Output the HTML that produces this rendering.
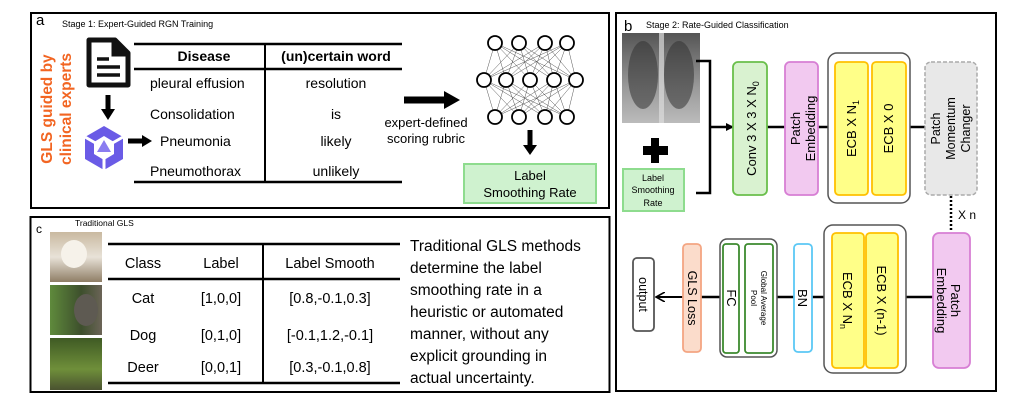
<!DOCTYPE html>
<html><head><meta charset="utf-8"><style>
html,body{margin:0;padding:0;background:#fff;}
svg{display:block;font-family:"Liberation Sans",Arial,sans-serif;}
</style></head><body>
<svg width="1028" height="411" viewBox="0 0 1028 411" xmlns="http://www.w3.org/2000/svg">
<defs>
<marker id="ah" markerWidth="8" markerHeight="8" refX="7" refY="4" orient="auto" markerUnits="userSpaceOnUse"><path d="M0,0 L8,4 L0,8 z" fill="#000"/></marker>
<marker id="ao" markerWidth="10" markerHeight="10" refX="9" refY="5" orient="auto" markerUnits="userSpaceOnUse"><path d="M0,0 L9,5 L0,10" fill="none" stroke="#000" stroke-width="1.6"/></marker>
<linearGradient id="xr" x1="0" y1="0" x2="0" y2="1"><stop offset="0" stop-color="#555"/><stop offset="0.6" stop-color="#999"/><stop offset="1" stop-color="#bbb"/></linearGradient>
<linearGradient id="dog" x1="0" y1="0" x2="0" y2="1"><stop offset="0" stop-color="#c9b9a0"/><stop offset="0.5" stop-color="#e8e2d8"/><stop offset="1" stop-color="#8f7e66"/></linearGradient>
<linearGradient id="cat" x1="0" y1="0" x2="1" y2="0"><stop offset="0" stop-color="#5f8a3c"/><stop offset="0.6" stop-color="#3d4f2c"/><stop offset="1" stop-color="#6b6457"/></linearGradient>
<linearGradient id="deer" x1="0" y1="0" x2="0" y2="1"><stop offset="0" stop-color="#3f5a24"/><stop offset="0.6" stop-color="#6f8f3a"/><stop offset="1" stop-color="#4a5230"/></linearGradient>
</defs>

<!-- Panel a -->
<rect x="31" y="13" width="578" height="195" fill="none" stroke="#000" stroke-width="2"/>
<text x="36" y="25" font-size="15">a</text>
<text x="62" y="27" font-size="9">Stage 1: Expert-Guided RGN Training</text>
<text transform="translate(52,109) rotate(-90)" text-anchor="middle" font-size="15.5" font-weight="bold" fill="#f26522">GLS guided by</text>
<text transform="translate(71,109) rotate(-90)" text-anchor="middle" font-size="15.5" font-weight="bold" fill="#f26522">clinical experts</text>
<path d="M89,40 H115 L128,53 V85 H89 Z" fill="none" stroke="#111" stroke-width="5" stroke-linejoin="round"/>
<path d="M113,40 V55 H128" fill="#111" stroke="#111" stroke-width="3"/>
<line x1="97" y1="59" x2="109" y2="59" stroke="#111" stroke-width="3.5"/>
<line x1="97" y1="67" x2="120" y2="67" stroke="#111" stroke-width="3.5"/>
<line x1="97" y1="75" x2="120" y2="75" stroke="#111" stroke-width="3.5"/>
<line x1="108" y1="95" x2="108" y2="110" stroke="#000" stroke-width="5"/>
<path d="M101,109 L115,109 L108,120 Z" fill="#000"/>
<g transform="translate(104,148)">
<polygon points="0,-22 19,-11 19,11 0,22 -19,11 -19,-11" fill="#6a5be6"/>
<polygon points="0,-12 10,-6 10,6 0,12 -10,6 -10,-6" fill="#fff"/>
<path d="M-19,-11 L-5,-3 M19,-11 L5,-3 M0,22 L0,8" stroke="#fff" stroke-width="3"/>
<polygon points="0,-8 7,4 -7,4" fill="#8a7cf0"/>
</g>
<line x1="128" y1="141" x2="143" y2="141" stroke="#000" stroke-width="5"/>
<path d="M142,135 L152,141 L142,147 Z" fill="#000"/>
<line x1="134" y1="44" x2="402" y2="44" stroke="#000" stroke-width="2.5"/>
<line x1="134" y1="69" x2="402" y2="69" stroke="#000" stroke-width="2.5"/>
<line x1="134" y1="182" x2="402" y2="182" stroke="#000" stroke-width="2.5"/>
<line x1="265" y1="44" x2="265" y2="182" stroke="#000" stroke-width="2"/>
<text x="204" y="61" text-anchor="middle" font-size="14" font-weight="bold">Disease</text>
<text x="336" y="61" text-anchor="middle" font-size="14" font-weight="bold">(un)certain word</text>
<g font-size="14">
<text x="150" y="88">pleural effusion</text>
<text x="150" y="119">Consolidation</text>
<text x="160" y="146">Pneumonia</text>
<text x="150" y="176">Pneumothorax</text>
<text x="336" y="88" text-anchor="middle">resolution</text>
<text x="336" y="119" text-anchor="middle">is</text>
<text x="336" y="146" text-anchor="middle">likely</text>
<text x="336" y="176" text-anchor="middle">unlikely</text>
</g>
<line x1="404" y1="100" x2="446" y2="100" stroke="#000" stroke-width="7"/>
<path d="M444,91 L460,100 L444,109 Z" fill="#000"/>
<text x="426" y="127" text-anchor="middle" font-size="13">expert-defined</text>
<text x="426" y="143" text-anchor="middle" font-size="13">scoring rubric</text>
<g stroke="#555" stroke-width="0.5">
<path d="M495,43L484,80M495,43L506,80M495,43L530,80M495,43L554,80M495,43L576,80M519,43L484,80M519,43L506,80M519,43L530,80M519,43L554,80M519,43L576,80M545,43L484,80M545,43L506,80M545,43L530,80M545,43L554,80M545,43L576,80M567,43L484,80M567,43L506,80M567,43L530,80M567,43L554,80M567,43L576,80"/>
<path d="M495,117L484,80M495,117L506,80M495,117L530,80M495,117L554,80M495,117L576,80M519,117L484,80M519,117L506,80M519,117L530,80M519,117L554,80M519,117L576,80M545,117L484,80M545,117L506,80M545,117L530,80M545,117L554,80M545,117L576,80M567,117L484,80M567,117L506,80M567,117L530,80M567,117L554,80M567,117L576,80"/>
</g>
<g fill="#fff" stroke="#000" stroke-width="1.8">
<circle cx="495" cy="43" r="7"/><circle cx="519" cy="43" r="7"/><circle cx="545" cy="43" r="7"/><circle cx="567" cy="43" r="7"/>
<circle cx="484" cy="80" r="7"/><circle cx="506" cy="80" r="7"/><circle cx="530" cy="80" r="7"/><circle cx="554" cy="80" r="7"/><circle cx="576" cy="80" r="7"/>
<circle cx="495" cy="117" r="7"/><circle cx="519" cy="117" r="7"/><circle cx="545" cy="117" r="7"/><circle cx="567" cy="117" r="7"/>
</g>
<line x1="530" y1="130" x2="530" y2="146" stroke="#000" stroke-width="5"/>
<path d="M523,145 L537,145 L530,155 Z" fill="#000"/>
<rect x="464" y="164" width="132" height="39" fill="#cff2cf" stroke="#8edc8e" stroke-width="2"/>
<text x="530" y="180" text-anchor="middle" font-size="13">Label</text>
<text x="530" y="197" text-anchor="middle" font-size="13">Smoothing Rate</text>

<!-- Panel c -->
<rect x="30.5" y="217" width="579" height="175" fill="none" stroke="#000" stroke-width="2"/>
<text x="36" y="233" font-size="12">c</text>
<text x="75" y="226" font-size="8.5">Traditional GLS</text>
<rect x="50" y="232" width="52" height="50" fill="url(#dog)"/>
<ellipse cx="74" cy="254" rx="13" ry="14" fill="#f6f2ea"/>
<rect x="50" y="285" width="52" height="50" fill="url(#cat)"/>
<ellipse cx="86" cy="310" rx="12" ry="16" fill="#5e5a52"/>
<rect x="50" y="338" width="52" height="52" fill="url(#deer)"/>
<line x1="108" y1="244" x2="400" y2="244" stroke="#000" stroke-width="2.5"/>
<line x1="108" y1="279" x2="400" y2="279" stroke="#000" stroke-width="2.5"/>
<line x1="108" y1="383" x2="400" y2="383" stroke="#000" stroke-width="2.5"/>
<line x1="263" y1="244" x2="263" y2="383" stroke="#000" stroke-width="2"/>
<g font-size="14.5" text-anchor="middle">
<text x="143" y="268">Class</text><text x="221" y="268">Label</text><text x="330" y="268">Label Smooth</text>
<text x="143" y="303">Cat</text><text x="221" y="303">[1,0,0]</text><text x="330" y="303">[0.8,-0.1,0.3]</text>
<text x="143" y="340">Dog</text><text x="221" y="340">[0,1,0]</text><text x="330" y="340">[-0.1,1.2,-0.1]</text>
<text x="143" y="372">Deer</text><text x="221" y="372">[0,0,1]</text><text x="330" y="372">[0.3,-0.1,0.8]</text>
</g>
<g font-size="15.5">
<text x="410" y="251">Traditional GLS methods</text>
<text x="410" y="273">determine the label</text>
<text x="410" y="295">smoothing rate in a</text>
<text x="410" y="317">heuristic or automated</text>
<text x="410" y="339">manner, without any</text>
<text x="410" y="361">explicit grounding in</text>
<text x="410" y="383">actual uncertainty.</text>
</g>

<!-- Panel b -->
<rect x="616" y="13" width="380" height="378" fill="none" stroke="#000" stroke-width="2"/>
<text x="624" y="31" font-size="15">b</text>
<text x="646" y="28" font-size="9">Stage 2: Rate-Guided Classification</text>
<rect x="622" y="33" width="78" height="90" fill="url(#xr)"/>
<ellipse cx="643" cy="75" rx="15" ry="34" fill="#333" opacity="0.55"/>
<ellipse cx="679" cy="75" rx="15" ry="34" fill="#333" opacity="0.55"/>
<rect x="659" y="33" width="5" height="90" fill="#ddd" opacity="0.7"/>
<rect x="651" y="138" width="8" height="25" fill="#000"/>
<rect x="643" y="146" width="25" height="9" fill="#000"/>
<rect x="623" y="169" width="61" height="42" fill="#cff2cf" stroke="#8edc8e" stroke-width="2"/>
<text x="653" y="181" text-anchor="middle" font-size="9">Label</text>
<text x="653" y="193" text-anchor="middle" font-size="9">Smoothing</text>
<text x="653" y="206" text-anchor="middle" font-size="9">Rate</text>
<path d="M696,61 H710 V193 H696" fill="none" stroke="#000" stroke-width="2.5"/>
<line x1="710" y1="127" x2="733" y2="127" stroke="#000" stroke-width="2.5" marker-end="url(#ah)"/>
<line x1="767" y1="127" x2="785" y2="127" stroke="#000" stroke-width="2.5"/>
<line x1="818" y1="127" x2="828" y2="127" stroke="#000" stroke-width="2.5"/>
<line x1="910" y1="127" x2="925" y2="127" stroke="#000" stroke-width="2.5"/>
<rect x="733" y="62" width="34" height="133" rx="5" fill="#d9f2d0" stroke="#6abf4b" stroke-width="1.8"/>
<text transform="translate(756,128.5) rotate(-90)" text-anchor="middle" font-size="13">Conv 3 X 3 X N<tspan font-size="9" dy="3">0</tspan></text>
<rect x="785" y="62" width="33" height="133" rx="5" fill="#f2c9f0" stroke="#d77fd4" stroke-width="1.8"/>
<text transform="translate(800,128.5) rotate(-90)" text-anchor="middle" font-size="13">Patch</text>
<text transform="translate(815,128.5) rotate(-90)" text-anchor="middle" font-size="13">Embedding</text>
<rect x="828" y="53" width="82" height="150" rx="9" fill="#fff" stroke="#555" stroke-width="1.5"/>
<rect x="835" y="62" width="33" height="133" rx="4" fill="#ffff88" stroke="#ffc000" stroke-width="1.8"/>
<rect x="872" y="62" width="34" height="133" rx="4" fill="#ffff88" stroke="#ffc000" stroke-width="1.8"/>
<text transform="translate(856,128.5) rotate(-90)" text-anchor="middle" font-size="13">ECB X N<tspan font-size="9" dy="3">1</tspan></text>
<text transform="translate(893,128.5) rotate(-90)" text-anchor="middle" font-size="13">ECB X 0</text>
<rect x="925" y="62" width="52" height="133" rx="6" fill="#e8e8e8" stroke="#aaa" stroke-width="1.5" stroke-dasharray="4,2"/>
<text transform="translate(940,128.5) rotate(-90)" text-anchor="middle" font-size="12.5">Patch</text>
<text transform="translate(955,128.5) rotate(-90)" text-anchor="middle" font-size="12.5">Momentum</text>
<text transform="translate(970,128.5) rotate(-90)" text-anchor="middle" font-size="12.5">Changer</text>
<line x1="951" y1="196" x2="951" y2="232" stroke="#000" stroke-width="2.5" stroke-dasharray="2,2"/>
<text x="958" y="219" font-size="12">X n</text>

<line x1="906" y1="297" x2="933" y2="297" stroke="#000" stroke-width="2.5"/>
<line x1="812" y1="297" x2="824" y2="297" stroke="#000" stroke-width="2.5"/>
<line x1="777" y1="297" x2="794" y2="297" stroke="#000" stroke-width="2.5"/>
<line x1="701" y1="297" x2="720" y2="297" stroke="#000" stroke-width="2.5"/>
<line x1="683" y1="297" x2="656" y2="297" stroke="#000" stroke-width="2" marker-end="url(#ao)"/>
<rect x="933" y="233" width="37" height="135" rx="6" fill="#f2c9f0" stroke="#d77fd4" stroke-width="1.8"/>
<text transform="translate(951,300.5) rotate(90)" text-anchor="middle" font-size="13">Patch</text>
<text transform="translate(937,300.5) rotate(90)" text-anchor="middle" font-size="13">Embedding</text>
<rect x="824" y="225" width="82" height="148" rx="9" fill="#fff" stroke="#555" stroke-width="1.5"/>
<rect x="832" y="233" width="32" height="135" rx="4" fill="#ffff88" stroke="#ffc000" stroke-width="1.8"/>
<rect x="866" y="233" width="32" height="135" rx="4" fill="#ffff88" stroke="#ffc000" stroke-width="1.8"/>
<text transform="translate(843,300.5) rotate(90)" text-anchor="middle" font-size="13">ECB X N<tspan font-size="9" dy="3">n</tspan></text>
<text transform="translate(877,300.5) rotate(90)" text-anchor="middle" font-size="13">ECB X (n-1)</text>
<rect x="794" y="244" width="18" height="108" rx="4" fill="#fff" stroke="#5bc8f5" stroke-width="1.8"/>
<text transform="translate(798,298) rotate(90)" text-anchor="middle" font-size="13">BN</text>
<rect x="720" y="239" width="57" height="118" rx="7" fill="#fff" stroke="#555" stroke-width="1.5"/>
<rect x="723" y="244" width="16" height="109" rx="3" fill="#fff" stroke="#3d8a2f" stroke-width="1.8"/>
<rect x="745" y="244" width="28" height="109" rx="3" fill="#fff" stroke="#3d8a2f" stroke-width="1.8"/>
<text transform="translate(727,298) rotate(90)" text-anchor="middle" font-size="13">FC</text>
<text transform="translate(761,298) rotate(90)" text-anchor="middle" font-size="8">Global Average</text>
<text transform="translate(751,298) rotate(90)" text-anchor="middle" font-size="8">Pool</text>
<rect x="683" y="244" width="18" height="108" rx="4" fill="#fbdccb" stroke="#f4a582" stroke-width="1.8"/>
<text transform="translate(688,298) rotate(90)" text-anchor="middle" font-size="12.5">GLS Loss</text>
<rect x="633" y="258" width="21" height="73" rx="4" fill="#fff" stroke="#555" stroke-width="1.8"/>
<text transform="translate(639,294.5) rotate(90)" text-anchor="middle" font-size="12.5">output</text>
</svg>
</body></html>
